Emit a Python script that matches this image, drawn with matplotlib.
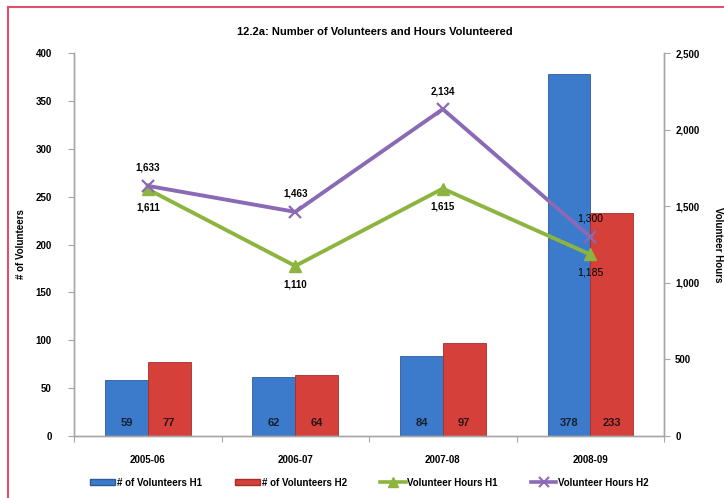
import matplotlib
matplotlib.use("Agg")
import matplotlib.pyplot as plt
from matplotlib.lines import Line2D
from matplotlib.patches import Patch
import numpy as np

# data
years = ["2005-06", "2006-07", "2007-08", "2008-09"]
vol_h1 = [59, 62, 84, 378]
vol_h2 = [77, 64, 97, 233]
hours_h1 = [1611, 1110, 1615, 1185]
hours_h2 = [1633, 1463, 2134, 1300]
hours_h1_labels = ["1,611", "1,110", "1,615", "1,185"]
hours_h2_labels = ["1,633", "1,463", "2,134", "1,300"]

BLUE = "#3C7BCB"
BLUE_EDGE = "#2C5C98"
RED = "#D6403B"
RED_EDGE = "#A0302B"
GREEN = "#8DB43E"
PURPLE = "#8A69B5"
GRID = "#A6A6A6"
FONT = "Liberation Sans"
SMALL = 7

plt.rcParams["font.family"] = [FONT, "DejaVu Sans"]

fig = plt.figure(figsize=(7.24, 4.98), dpi=100, facecolor="white")
ax = fig.add_axes([0.1022, 0.1245, 0.815, 0.769])
ax2 = ax.twinx()

x = np.arange(len(years))
w = 0.29
ax.bar(x - w / 2, vol_h1, w, color=BLUE, edgecolor=BLUE_EDGE, linewidth=0.6, zorder=2)
ax.bar(x + w / 2, vol_h2, w, color=RED, edgecolor=RED_EDGE, linewidth=0.6, zorder=2)
for i in range(len(years)):
    ax.text(x[i] - w / 2, 14, str(vol_h1[i]), ha="center", va="center",
            fontsize=8, fontweight="semibold", color="#14202E", zorder=3)
    ax.text(x[i] + w / 2, 14, str(vol_h2[i]), ha="center", va="center",
            fontsize=8, fontweight="semibold", color="#2A1414", zorder=3)

ax.set_ylim(0, 400)
ax.set_yticks(range(0, 401, 50))
ax.set_yticklabels([str(v) for v in range(0, 401, 50)], fontsize=SMALL, fontweight="bold")
ax.set_xlim(-0.5, 3.5)
ax.set_xticks([-0.5, 0.5, 1.5, 2.5, 3.5])
ax.set_xticklabels([])
ax.set_xticks(x, minor=True)
ax.set_xticklabels(years, minor=True, fontsize=SMALL, fontweight="bold")
ax.tick_params(axis="x", which="minor", length=0, pad=14)
ax.tick_params(axis="x", which="major", length=4, color=GRID)
ax.tick_params(axis="y", length=4, color=GRID, pad=12)

# lines on the secondary axis
ax2.plot(x, hours_h1, color=GREEN, lw=2.8, marker="^", ms=8, zorder=4)
ax2.plot(x, hours_h2, color=PURPLE, lw=2.8, marker="x", ms=9, mew=1.6, zorder=5)
for i in range(len(years)):
    wt = "normal" if i == 3 else "bold"
    fs = 7.5 if i == 3 else SMALL
    ax2.annotate(hours_h2_labels[i], (x[i], hours_h2[i]), xytext=(0, 13),
                 textcoords="offset points", ha="center", va="center",
                 fontsize=fs, fontweight=wt, color="black", zorder=6)
    ax2.annotate(hours_h1_labels[i], (x[i], hours_h1[i]), xytext=(0, -13),
                 textcoords="offset points", ha="center", va="center",
                 fontsize=fs, fontweight=wt, color="black", zorder=6)

ax2.set_ylim(0, 2500)
ax2.set_yticks(range(0, 2501, 500))
ax2.set_yticklabels(["0", "500", "1,000", "1,500", "2,000", "2,500"],
                    fontsize=SMALL, fontweight="bold")
ax2.tick_params(axis="y", length=4, color=GRID, pad=4)

for a in (ax, ax2):
    a.spines["top"].set_visible(False)
    for s in ("left", "right", "bottom"):
        a.spines[s].set_color(GRID)
        a.spines[s].set_linewidth(1.0)

ax.set_ylabel("# of Volunteers", fontsize=SMALL, fontweight="bold")
ax.yaxis.set_label_coords(-0.082, 0.5)
ax2.set_ylabel("Volunteer Hours", fontsize=SMALL, fontweight="bold", rotation=270)
ax2.yaxis.set_label_coords(1.1, 0.5)

fig.text(0.518, 0.936, "12.2a: Number of Volunteers and Hours Volunteered",
         ha="center", va="center", fontsize=8, fontweight="bold")

handles = [
    Patch(facecolor=BLUE, edgecolor=BLUE_EDGE),
    Patch(facecolor=RED, edgecolor=RED_EDGE),
    Line2D([], [], color=GREEN, lw=2.6, marker="^", ms=7),
    Line2D([], [], color=PURPLE, lw=2.6, marker="x", ms=7, mew=1.5),
]
labels = ["# of Volunteers H1", "# of Volunteers H2", "Volunteer Hours H1", "Volunteer Hours H2"]
fig.legend(handles, labels, loc="center", bbox_to_anchor=(0.51, 0.031), ncol=4,
           frameon=False, prop={"size": SMALL, "weight": "bold"},
           handlelength=2.6, handleheight=0.6, columnspacing=3.4, handletextpad=0.2)

# red frame edges
fig.add_artist(Line2D([8 / 724, 1.0], [1 - 7 / 498, 1 - 7 / 498], color="#E0506A", lw=1.5,
                      transform=fig.transFigure))
fig.add_artist(Line2D([8 / 724, 8 / 724], [0, 1 - 7 / 498], color="#E0506A", lw=1.5,
                      transform=fig.transFigure))

fig.savefig("out.png", dpi=100, facecolor="white")
